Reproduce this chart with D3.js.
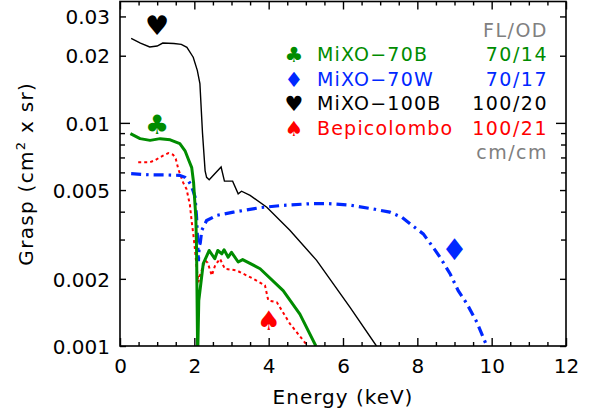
<!DOCTYPE html>
<html>
<head>
<meta charset="utf-8">
<script src="https://cdn.jsdelivr.net/npm/d3@7"></script>
<style>
body { margin: 0; background: #fff; }
text { font-family: "DejaVu Sans", sans-serif; }
</style>
</head>
<body>
<div id="chart"></div>
<script>
// energy (keV), grasp (cm2 x sr)
var mixo70b = [[0.28, 0.00895], [0.54, 0.0085], [0.81, 0.00835], [1.08, 0.0085], [1.35, 0.0084],
    [1.61, 0.00807], [1.75, 0.0075], [1.85, 0.0068], [1.93, 0.0063], [1.98, 0.0054], [2.01, 0.0045],
    [2.04, 0.0038], [2.06, 0.0027], [2.09, 0.0009], [2.12, 0.0016], [2.24, 0.00234], [2.40, 0.00268],
    [2.55, 0.00246], [2.63, 0.00268], [2.74, 0.00259], [2.80, 0.0027], [2.91, 0.0025], [3.0, 0.00263],
    [3.18, 0.00238], [3.30, 0.00244], [3.77, 0.00222], [4.39, 0.00177], [4.84, 0.00139], [5.27, 0.001]];

var mixo70w = [[0.3, 0.00592], [0.8, 0.00585], [1.3, 0.00584], [1.6, 0.00582], [1.75, 0.0057],
    [1.84, 0.0055], [1.9, 0.0053], [1.96, 0.005], [2.02, 0.00465], [2.06, 0.00378], [2.09, 0.0029],
    [2.11, 0.0024], [2.13, 0.0028], [2.16, 0.0029], [2.2, 0.0033], [2.33, 0.00365], [2.6, 0.00385],
    [3.05, 0.00398], [3.77, 0.00417], [4.39, 0.00427], [5.11, 0.00434], [5.6, 0.00435], [6.19, 0.00428],
    [6.86, 0.0041], [7.26, 0.00398], [7.58, 0.00378], [7.89, 0.00344], [8.16, 0.00318], [8.39, 0.00282],
    [8.61, 0.0025], [8.88, 0.00211], [9.10, 0.00177], [9.33, 0.00155], [9.6, 0.00128], [9.87, 0.001]];

var mixo100b = [[0.3, 0.0239], [0.55, 0.0228], [0.8, 0.0219], [1.0, 0.0221], [1.15, 0.0228],
    [1.45, 0.0227], [1.65, 0.0225], [1.8, 0.0218], [1.97, 0.0197], [2.08, 0.0172], [2.15, 0.015],
    [2.22, 0.009], [2.29, 0.0061], [2.33, 0.0057], [2.40, 0.00556], [2.72, 0.00634], [2.81, 0.00548],
    [3.03, 0.00548], [3.18, 0.00481], [3.27, 0.00494], [3.5, 0.00473], [3.95, 0.00419], [4.57, 0.0033],
    [5.29, 0.00242], [6.19, 0.00149], [6.9, 0.001]];

var bepi = [[0.49, 0.00667], [0.81, 0.00667], [0.94, 0.0068], [1.08, 0.00702], [1.17, 0.00715],
    [1.3, 0.00732], [1.43, 0.0072], [1.5, 0.0069], [1.57, 0.0062], [1.7, 0.0054], [1.79, 0.00505],
    [1.88, 0.0043], [1.93, 0.0036], [1.97, 0.0032], [2.02, 0.00268], [2.06, 0.00226], [2.11, 0.00193],
    [2.15, 0.00207], [2.29, 0.00242], [2.36, 0.00236], [2.47, 0.00207], [2.56, 0.0023], [2.69, 0.00246],
    [2.82, 0.00222], [3.14, 0.00218], [3.59, 0.002], [3.90, 0.00187], [3.99, 0.0016], [4.22, 0.00157],
    [4.57, 0.00126], [5.05, 0.001]];

// marker glyph placed near each curve
var markers = [["\u2663", 1.0, 0.0098], ["\u2666", 9.0, 0.0027], ["\u2665", 1.0, 0.0272], ["\u2660", 4.0, 0.0013]];

var names = ["MiXO\u221270B", "MiXO\u221270W", "MiXO\u2212100B", "Bepicolombo"];
var flod = ["70/14", "70/17", "100/20", "100/21"];
var colors = ["#008c00", "#0028ff", "#000000", "#ff0000"];

var xMajor = [0, 2, 4, 6, 8, 10, 12];
var yLabeled = [0.001, 0.002, 0.005, 0.01, 0.02, 0.03];
var yMinor = [0.003, 0.004, 0.006, 0.007, 0.008, 0.009];

var width = 596, height = 415;
var mLeft = 120, mRight = 566, mTop = 1.5, mBottom = 346;

var svg = d3.select("#chart").append("svg")
    .attr("width", width)
    .attr("height", height);

var x = d3.scaleLinear().domain([0, 12]).range([mLeft, mRight]);
var y = d3.scaleLog().domain([0.001, 0.035]).range([mBottom, mTop]);

svg.append("clipPath").attr("id", "clip")
    .append("rect")
    .attr("x", mLeft).attr("y", mTop)
    .attr("width", mRight - mLeft).attr("height", mBottom - mTop);

var line = d3.line()
    .x(function (d) { return x(d[0]); })
    .y(function (d) { return y(d[1]); });

var plot = svg.append("g").attr("clip-path", "url(#clip)");

plot.append("path").datum(mixo100b)
    .attr("d", line).attr("fill", "none")
    .attr("stroke", colors[2]).attr("stroke-width", 1.4);

plot.append("path").datum(bepi)
    .attr("d", line).attr("fill", "none")
    .attr("stroke", colors[3]).attr("stroke-width", 2)
    .attr("stroke-dasharray", "3,3");

plot.append("path").datum(mixo70w)
    .attr("d", line).attr("fill", "none")
    .attr("stroke", colors[1]).attr("stroke-width", 3.2)
    .attr("stroke-dasharray", "10,5,2.5,5");

plot.append("path").datum(mixo70b)
    .attr("d", line).attr("fill", "none")
    .attr("stroke", colors[0]).attr("stroke-width", 3)
    .attr("stroke-linejoin", "round");

// markers
svg.selectAll(".mark").data(markers).enter()
    .append("text")
    .attr("class", "mark")
    .attr("x", function (d) { return x(d[1]); })
    .attr("y", function (d) { return y(d[2]); })
    .attr("text-anchor", "middle")
    .attr("dominant-baseline", "central")
    .attr("font-size", function (d, i) { return i === 1 ? 30 : 27; })
    .attr("fill", function (d, i) { return colors[i]; })
    .text(function (d) { return d[0]; });

// axes: bottom / top
var xMinor = d3.range(0, 12.01, 0.5).filter(function (v) { return v % 2 !== 0; });
var xb = svg.append("g").attr("transform", "translate(0," + mBottom + ")")
    .call(d3.axisBottom(x).tickValues(xMajor).tickSize(-8).tickPadding(13).tickFormat(d3.format("d")));
var xbm = svg.append("g").attr("transform", "translate(0," + mBottom + ")")
    .call(d3.axisBottom(x).tickValues(xMinor).tickSize(-4).tickFormat(""));
var xt = svg.append("g").attr("transform", "translate(0," + mTop + ")")
    .call(d3.axisTop(x).tickValues(xMajor).tickSize(-8).tickFormat(""));
var xtm = svg.append("g").attr("transform", "translate(0," + mTop + ")")
    .call(d3.axisTop(x).tickValues(xMinor).tickSize(-4).tickFormat(""));

// axes: left / right
var yl = svg.append("g").attr("transform", "translate(" + mLeft + ",0)")
    .call(d3.axisLeft(y).tickValues(yLabeled).tickSize(-6).tickPadding(10).tickFormat(d3.format("")));
var ylm = svg.append("g").attr("transform", "translate(" + mLeft + ",0)")
    .call(d3.axisLeft(y).tickValues(yMinor).tickSize(-5).tickFormat(""));
var yr = svg.append("g").attr("transform", "translate(" + mRight + ",0)")
    .call(d3.axisRight(y).tickValues(yLabeled).tickSize(-6).tickFormat(""));
var yrm = svg.append("g").attr("transform", "translate(" + mRight + ",0)")
    .call(d3.axisRight(y).tickValues(yMinor).tickSize(-5).tickFormat(""));
// decade ticks a bit longer
yl.selectAll(".tick line").attr("x2", function (d) { return d === 0.01 ? 10 : 6; });
yr.selectAll(".tick line").attr("x2", function (d) { return d === 0.01 ? -10 : -6; });

[xb, xbm, xt, xtm, yl, ylm, yr, yrm].forEach(function (g) {
    g.select(".domain").remove();
    g.selectAll(".tick line").attr("stroke", "#000").attr("stroke-width", 1.4);
    g.selectAll("text").attr("font-size", 20).attr("fill", "#000")
        .attr("font-family", "DejaVu Sans");
});
yl.selectAll("text").attr("dy", "0.36em");

svg.append("rect")
    .attr("x", mLeft).attr("y", mTop)
    .attr("width", mRight - mLeft).attr("height", mBottom - mTop)
    .attr("fill", "none").attr("stroke", "#000").attr("stroke-width", 1.6);

// axis titles
svg.append("text")
    .attr("x", (mLeft + mRight) / 2).attr("y", 404)
    .attr("text-anchor", "middle").attr("font-size", 20)
    .attr("letter-spacing", 1)
    .text("Energy (keV)");

var yt = svg.append("text")
    .attr("transform", "translate(33," + (mTop + mBottom) / 2 + ") rotate(-90)")
    .attr("text-anchor", "middle").attr("font-size", 20)
    .attr("letter-spacing", 1.3);
yt.append("tspan").text("Grasp  (cm");
yt.append("tspan").attr("dy", -8).attr("font-size", 13).text("2");
yt.append("tspan").attr("dy", 8).text(" x sr)");

// legend
var lg = svg.append("g").attr("font-size", 19);
lg.append("text").attr("x", 548).attr("y", 37).attr("text-anchor", "end")
    .attr("fill", "#808080").attr("letter-spacing", 1.5).text("FL/OD");
lg.append("text").attr("x", 548).attr("y", 159).attr("text-anchor", "end")
    .attr("fill", "#808080").attr("letter-spacing", 1.5).text("cm/cm");

var rows = lg.selectAll(".row").data(names).enter()
    .append("g").attr("class", "row")
    .attr("transform", function (d, i) { return "translate(0," + (61 + i * 24.5) + ")"; });
rows.append("text").attr("x", 294).attr("y", -6)
    .attr("text-anchor", "middle").attr("dominant-baseline", "central")
    .attr("font-size", 21)
    .attr("fill", function (d, i) { return colors[i]; })
    .text(function (d, i) { return markers[i][0]; });
rows.append("text").attr("x", 317)
    .attr("fill", function (d, i) { return colors[i]; })
    .attr("letter-spacing", 1.2)
    .text(function (d) { return d; });
rows.append("text").attr("x", 548).attr("text-anchor", "end")
    .attr("fill", function (d, i) { return colors[i]; })
    .attr("letter-spacing", 1.5)
    .text(function (d, i) { return flod[i]; });
</script>
</body>
</html>
